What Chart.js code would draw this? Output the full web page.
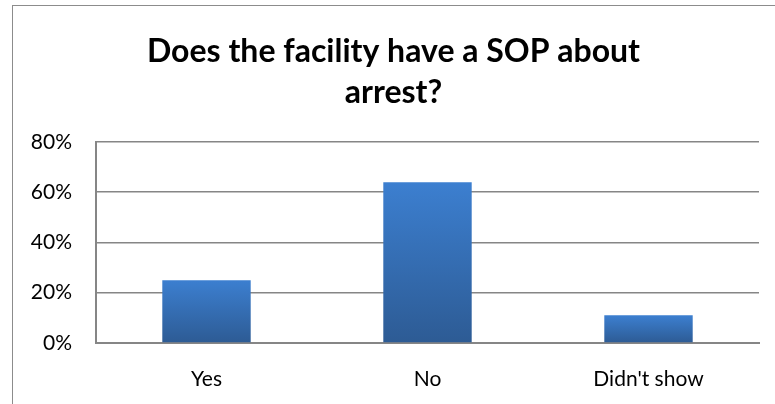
<!DOCTYPE html>
<html>
<head>
<meta charset="utf-8">
<script src="https://cdn.jsdelivr.net/npm/chart.js@4/dist/chart.umd.min.js"></script>
<style>
  html, body { margin: 0; padding: 0; background: #fff; }
  #wrap { width: 775px; height: 404px; }
</style>
</head>
<body>
<div id="wrap"><canvas id="sopChart"></canvas></div>
<script>
const categories = ['Yes', 'No', "Didn't show"];
const shares = [25, 64, 11];
const titleLines = ['Does the facility have a SOP about', 'arrest?'];

const gridGrey = '#868686';
const barTop = '#3c7fd0';
const barBottom = '#2d5b94';

// thin frame round the whole chart, as in the spreadsheet export
const outerFrame = {
    id: 'outerFrame',
    afterLayout(chart) {
        // centre the title on the framed area, not on the plot
        if (chart.titleBlock) {
            chart.titleBlock.left = 12;
            chart.titleBlock.right = chart.width;
        }
    },
    beforeDraw(chart) {
        const ctx = chart.ctx;
        ctx.save();
        ctx.strokeStyle = '#8c8c8c';
        ctx.lineWidth = 1;
        ctx.strokeRect(12.5, 5.5, chart.width, chart.height);
        ctx.restore();
    }
};

function barFill(context) {
    const chart = context.chart;
    const area = chart.chartArea;
    if (!area) return barTop;
    const y = chart.scales.y;
    const top = y.getPixelForValue(context.raw);
    const bottom = y.getPixelForValue(0);
    const g = chart.ctx.createLinearGradient(0, top, 0, bottom);
    g.addColorStop(0, barTop);
    g.addColorStop(1, barBottom);
    return g;
}

const ctx = document.getElementById('sopChart').getContext('2d');
new Chart(ctx, {
    type: 'bar',
    data: {
        labels: categories,
        datasets: [{
            data: shares,
            backgroundColor: barFill,
            borderWidth: 0,
            barPercentage: 0.4,
            categoryPercentage: 1
        }]
    },
    options: {
        responsive: true,
        maintainAspectRatio: false,
        animation: false,
        layout: { padding: { left: 12, right: 16, top: 0, bottom: 11 } },
        plugins: {
            legend: { display: false },
            tooltip: { enabled: false },
            title: {
                display: true,
                text: titleLines,
                color: '#000',
                font: { family: 'Lato', size: 32, weight: 'bold', lineHeight: 1.28 },
                padding: { top: 31, bottom: 29 }
            }
        },
        scales: {
            x: {
                afterFit(scale) { scale.height = 50; },
                grid: { display: false, drawTicks: false },
                border: { display: true, color: gridGrey, width: 2 },
                ticks: { color: '#000', font: { family: 'Lato', size: 21 }, padding: 24 }
            },
            y: {
                min: 0,
                max: 80,
                afterFit(scale) { scale.width = 84; },
                grid: { color: gridGrey, lineWidth: 1.5, drawTicks: false },
                border: { display: true, color: gridGrey, width: 2 },
                ticks: {
                    stepSize: 20,
                    color: '#000',
                    font: { family: 'Lato', size: 21 },
                    padding: 24,
                    callback: v => v + '%'
                }
            }
        }
    },
    plugins: [outerFrame]
});
</script>
</body>
</html>
